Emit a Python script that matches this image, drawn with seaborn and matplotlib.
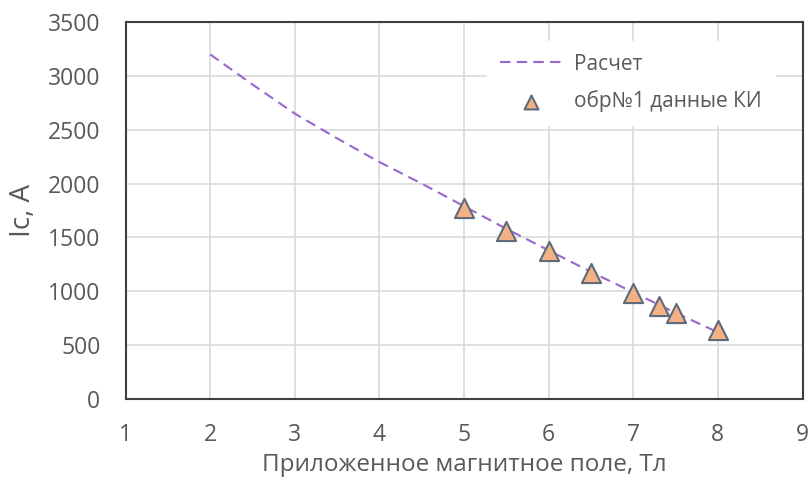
import matplotlib
matplotlib.use("Agg")
import matplotlib.pyplot as plt
import seaborn as sns
import pandas as pd

calc_x = [2, 2.5, 3, 3.5, 4, 4.5, 5, 5.5, 6, 6.5, 7, 7.5, 8]
calc_y = [3200, 2920, 2650, 2420, 2200, 2000, 1790, 1580, 1380, 1180, 990, 800, 620]
exp_x = [5, 5.5, 6, 6.5, 7, 7.3, 7.5, 8]
exp_y = [1775, 1560, 1372, 1168, 985, 868, 795, 640]

sns.set_theme(style="white")
plt.rcParams['font.family'] = ['Open Sans', 'DejaVu Sans']

W, H = 809, 488
fig = plt.figure(figsize=(W/100, H/100), dpi=100)
L, R, T, B = 125.5, 802.5, 22, 399
ax = fig.add_axes([L/W, 1-B/H, (R-L)/W, (B-T)/H])

df_calc = pd.DataFrame({"x": calc_x, "y": calc_y})
df_exp = pd.DataFrame({"x": exp_x, "y": exp_y})

sns.lineplot(data=df_calc, x="x", y="y", ax=ax, color="#9966CC", linewidth=1.5,
             linestyle=(0, (5, 3)), label="Расчет", zorder=3)
sns.scatterplot(data=df_exp, x="x", y="y", ax=ax, marker="^", s=190,
                color="#F4B183", edgecolor="#5E6B7A", linewidth=1.5,
                label="обр№1 данные КИ", zorder=4)

ax.set_xlim(1, 9)
ax.set_ylim(0, 3500)
ax.set_xticks(range(1, 10))
ax.set_yticks(range(0, 3501, 500))
ax.grid(True, color="#D9D9D9", linewidth=1.2)
ax.set_axisbelow(True)
for s in ax.spines.values():
    s.set_color("#404040")
    s.set_linewidth(1.5)
ax.tick_params(axis="both", labelsize=16.5, colors="#595959", length=0)
ax.tick_params(axis="y", pad=18)
ax.tick_params(axis="x", pad=17)
ax.set_xlabel("Приложенное магнитное поле, Тл", fontsize=17.5, color="#595959")
ax.set_ylabel("Ic, A", fontsize=20, color="#595959")
ax.xaxis.set_label_coords(0.5, (B-453)/(B-T))
ax.yaxis.set_label_coords((37-L)/(R-L), 0.5)

leg = ax.legend(loc="upper left", bbox_to_anchor=((487-L)/(R-L), (B-41)/(B-T)),
                frameon=True, fontsize=15, labelcolor="#595959", handlelength=3.0,
                handletextpad=0.6, labelspacing=0.75, borderpad=0.6, borderaxespad=0)
leg.get_frame().set_facecolor("white")
leg.get_frame().set_edgecolor("white")
leg.get_frame().set_alpha(1)
leg.get_frame().set_boxstyle("square", pad=0)
leg.legend_handles[1].set_sizes([100])

fig.savefig("out.png", dpi=100)
